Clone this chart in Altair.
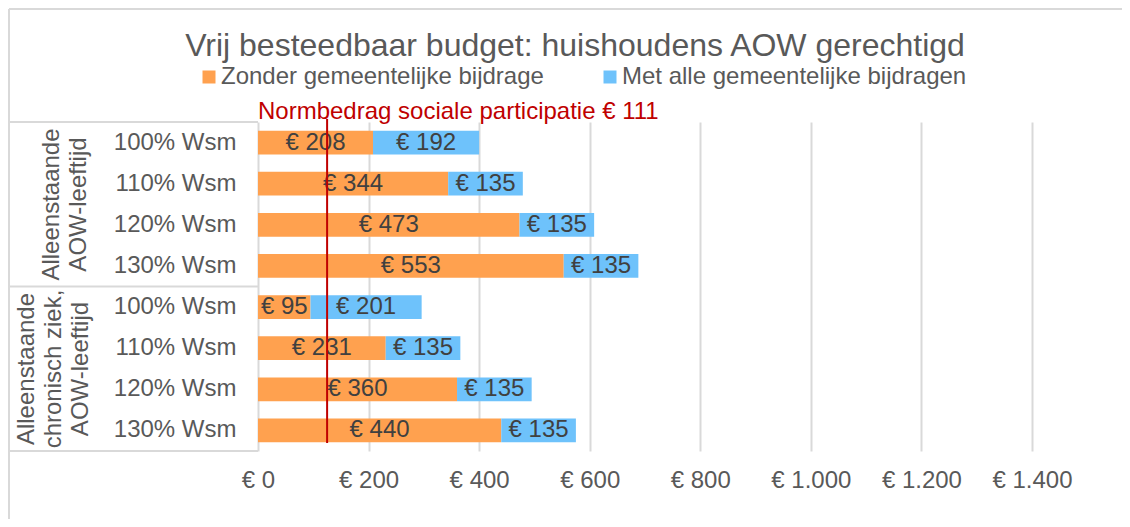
import altair as alt
import pandas as pd

# ---- data ----
title_text = "Vrij besteedbaar budget: huishoudens AOW gerechtigd"
series = ["Zonder gemeentelijke bijdrage", "Met alle gemeentelijke bijdragen"]
group_labels = ["Alleenstaande\nAOW-leeftijd", "Alleenstaande\nchronisch ziek,\nAOW-leeftijd"]
levels = ["100% Wsm", "110% Wsm", "120% Wsm", "130% Wsm"]
zonder = [208, 344, 473, 553, 95, 231, 360, 440]
met = [192, 135, 135, 135, 201, 135, 135, 135]
norm_value = 111
norm_pos = 125
x_ticks = [0, 200, 400, 600, 800, 1000, 1200, 1400]

FONT = "Liberation Sans"
GREY = "#595959"
ORANGE = "#FFA14F"
BLUE = "#6EC2FB"
RED = "#C00000"
LINE = "#D9D9D9"

keys = []
for gi in range(len(group_labels)):
    for lv in levels:
        keys.append(f"{gi}|{lv}")

rows = []
for i, k in enumerate(keys):
    rows.append({"key": k, "series": series[0], "value": zonder[i], "ord": 0})
    rows.append({"key": k, "series": series[1], "value": met[i], "ord": 1})
df = pd.DataFrame(rows)

W, H = 774, 329
PL, PT = 250, 114

xscale = alt.Scale(domain=[0, 1400], nice=False, zero=True)
yscale = alt.Scale(paddingInner=0.42, paddingOuter=0.21)

base = alt.Chart(df).transform_stack(
    stack="value", groupby=["key"], sort=[alt.SortField("ord")], as_=["x0", "x1"]
).transform_calculate(mid="(datum.x0 + datum.x1) / 2")

bars = base.mark_bar().encode(
    x=alt.X("x0:Q", scale=xscale, title=None,
            axis=alt.Axis(values=x_ticks, labelExpr="'€ ' + replace(format(datum.value, ','), ',', '.')",
                          grid=True, gridColor=LINE, gridWidth=2, domain=False, ticks=False,
                          labelOverlap=False, labelFlush=False, labelFontSize=24, labelFont=FONT,
                          labelColor=GREY, labelPadding=17)),
    x2="x1:Q",
    y=alt.Y("key:N", sort=keys, scale=yscale, title=None,
            axis=alt.Axis(labelExpr="split(datum.value, '|')[1]", domain=False, ticks=False,
                          grid=False, labelFontSize=24, labelFont=FONT, labelColor=GREY,
                          labelPadding=22)),
    color=alt.Color("series:N", scale=alt.Scale(domain=series, range=[ORANGE, BLUE]),
                    legend=alt.Legend(orient="none", legendX=-61, legendY=-57, direction="horizontal",
                                      title=None, symbolType="square", symbolSize=169,
                                      symbolStrokeWidth=0, labelFontSize=24, labelFont=FONT,
                                      labelColor=GREY, columnPadding=54, labelOffset=0,
                                      labelLimit=600)),
    order=alt.Order("ord:Q"),
)

labels = base.mark_text(fontSize=24, font=FONT, color="#404040", baseline="middle", align="center").encode(
    x=alt.X("mid:Q", scale=xscale, title=None),
    y=alt.Y("key:N", sort=keys, scale=yscale, title=None),
    text=alt.Text("label:N"),
).transform_calculate(label="'€ ' + datum.value")

df_norm = pd.DataFrame({"v": [norm_pos], "t": [f"Normbedrag sociale participatie € {norm_value}"]})
norm_rule = alt.Chart(df_norm).mark_rule(color=RED, strokeWidth=2).encode(
    x=alt.X("v:Q", scale=xscale, title=None), y=alt.value(-3), y2=alt.value(321)
)
norm_text = alt.Chart(df_norm).mark_text(align="left", baseline="middle", fontSize=24, font=FONT, color=RED).encode(
    x=alt.value(0), y=alt.value(-10), text="t:N"
)

df_title = pd.DataFrame({"t": [title_text]})
title = alt.Chart(df_title).mark_text(align="center", baseline="middle", fontSize=32, font=FONT, color=GREY).encode(
    x=alt.value(317), y=alt.value(-76), text="t:N"
)

gx = [-206, -231]
gy = [82.5, 247]
glabels = []
for i, g in enumerate(group_labels):
    glabels.append(
        alt.Chart(pd.DataFrame({"g": [g]})).mark_text(
            angle=270, align="center", baseline="middle", fontSize=24, font=FONT, color=GREY,
            lineBreak="\n", lineHeight=27
        ).encode(x=alt.value(gx[i]), y=alt.value(gy[i]), text="g:N")
    )

one = pd.DataFrame({"a": [0]})
frame = []
# table horizontal lines
for yy in [0, H / 2, H]:
    frame.append(alt.Chart(one).mark_rule(color=LINE, strokeWidth=2).encode(
        x=alt.value(-PL + 1), x2=alt.value(0), y=alt.value(yy)))
# chart frame: left and top
frame.append(alt.Chart(one).mark_rule(color=LINE, strokeWidth=2).encode(
    x=alt.value(-PL + 1), y=alt.value(-PT + 1), y2=alt.value(H + 70)))
frame.append(alt.Chart(one).mark_rule(color=LINE, strokeWidth=2).encode(
    x=alt.value(-PL + 1), x2=alt.value(W + 100), y=alt.value(-PT + 1)))

chart = alt.layer(bars, labels, *frame, norm_rule, norm_text, title, *glabels).properties(
    width=W, height=H,
    autosize=alt.AutoSizeParams(type="none"),
    padding={"left": PL, "top": PT, "right": 1114 - PL - W, "bottom": 511 - PT - H},
    background="white",
).configure_view(stroke=None)

chart.save("out.html", embed_options={"renderer": "svg", "actions": False})
